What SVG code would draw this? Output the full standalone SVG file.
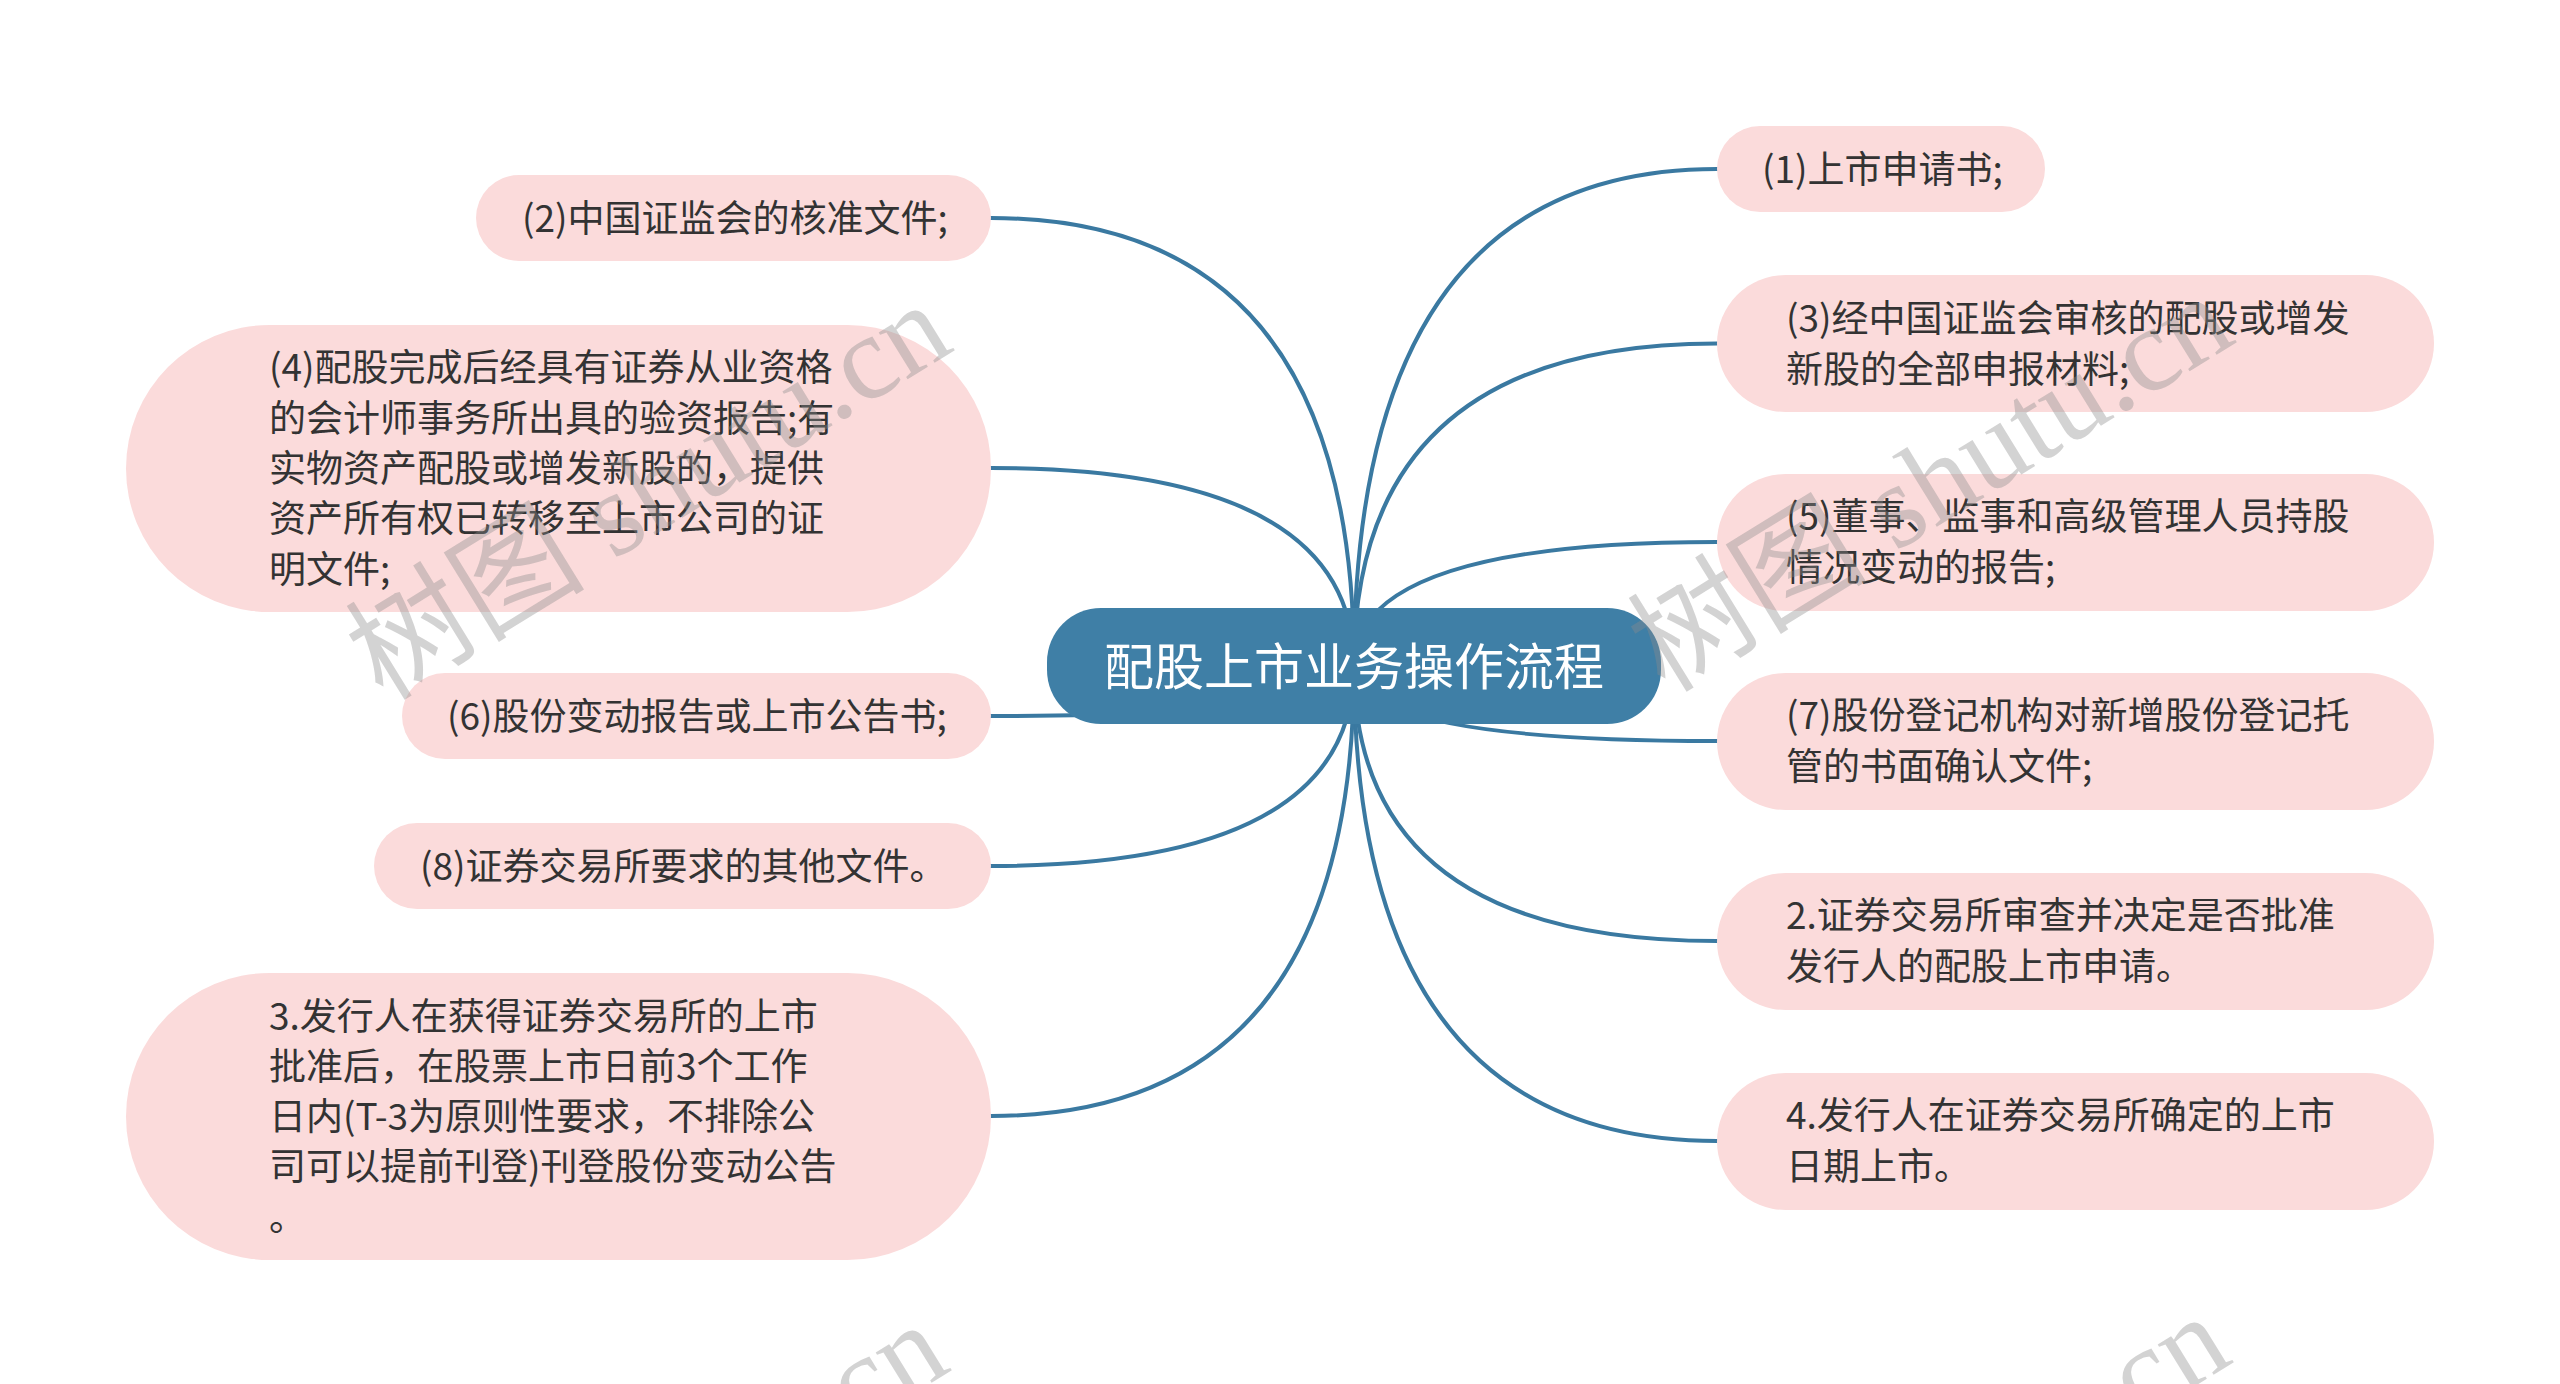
<svg xmlns="http://www.w3.org/2000/svg" width="2560" height="1384" viewBox="0 0 2560 1384">
<style>
.bg{fill:#ffffff}
.conn{fill:none;stroke:#3a79a1;stroke-width:4;stroke-linecap:round}
.leaf{fill:#fbdbdb}
.root{fill:#3f7fa6}
.t{font-family:"Noto Sans CJK SC","Noto Sans",sans-serif;font-size:37px;fill:#333333}
.rt{font-family:"Noto Sans CJK SC","Noto Sans",sans-serif;font-size:50px;fill:#ffffff;text-anchor:middle}
.wm{font-family:"Liberation Serif","Noto Sans CJK SC",serif;font-size:120px;fill:#8c8c8c;fill-opacity:0.38}
</style>
<rect class="bg" x="0" y="0" width="2560" height="1384"/>
<g id="connectors">
<path class="conn" d="M1354 666 Q1354 169 1717 169"/>
<path class="conn" d="M1354 666 Q1354 343.5 1717 343.5"/>
<path class="conn" d="M1354 666 Q1354 542 1717 542"/>
<path class="conn" d="M1354 666 Q1354 741 1717 741"/>
<path class="conn" d="M1354 666 Q1354 941 1717 941"/>
<path class="conn" d="M1354 666 Q1354 1141 1717 1141"/>
<path class="conn" d="M1354 666 Q1354 218 991 218"/>
<path class="conn" d="M1354 666 Q1354 468 991 468"/>
<path class="conn" d="M1354 666 Q1354 716 991 716"/>
<path class="conn" d="M1354 666 Q1354 866 991 866"/>
<path class="conn" d="M1354 666 Q1354 1116 991 1116"/>
</g>
<g id="root">
<rect class="root" x="1047" y="608" width="614" height="116" rx="54"/>
<text class="rt" x="1354" y="685">配股上市业务操作流程</text>
</g>
<g id="r1">
<rect class="leaf" x="1717" y="126" width="328" height="86" rx="43"/>
<text class="t" x="1762" y="183">(1)上市申请书;</text>
</g>
<g id="r3">
<rect class="leaf" x="1717" y="275" width="717" height="137" rx="68.5"/>
<text class="t" x="1786" y="332">(3)经中国证监会审核的配股或增发</text>
<text class="t" x="1786" y="383">新股的全部申报材料;</text>
</g>
<g id="r5">
<rect class="leaf" x="1717" y="474" width="717" height="137" rx="68.5"/>
<text class="t" x="1786" y="530">(5)董事、监事和高级管理人员持股</text>
<text class="t" x="1786" y="581">情况变动的报告;</text>
</g>
<g id="r7">
<rect class="leaf" x="1717" y="673" width="717" height="137" rx="68.5"/>
<text class="t" x="1786" y="729">(7)股份登记机构对新增股份登记托</text>
<text class="t" x="1786" y="780">管的书面确认文件;</text>
</g>
<g id="r2">
<rect class="leaf" x="1717" y="873" width="717" height="137" rx="68.5"/>
<text class="t" x="1786" y="929">2.证券交易所审查并决定是否批准</text>
<text class="t" x="1786" y="980">发行人的配股上市申请。</text>
</g>
<g id="r4">
<rect class="leaf" x="1717" y="1073" width="717" height="137" rx="68.5"/>
<text class="t" x="1786" y="1129">4.发行人在证券交易所确定的上市</text>
<text class="t" x="1786" y="1180">日期上市。</text>
</g>
<g id="l2">
<rect class="leaf" x="476" y="175" width="515" height="86" rx="43"/>
<text class="t" x="522" y="232">(2)中国证监会的核准文件;</text>
</g>
<g id="l4">
<rect class="leaf" x="126" y="325" width="865" height="287" rx="143.5"/>
<text class="t" x="269" y="381">(4)配股完成后经具有证券从业资格</text>
<text class="t" x="269" y="432">的会计师事务所出具的验资报告;有</text>
<text class="t" x="269" y="482">实物资产配股或增发新股的，提供</text>
<text class="t" x="269" y="532">资产所有权已转移至上市公司的证</text>
<text class="t" x="269" y="583">明文件;</text>
</g>
<g id="l6">
<rect class="leaf" x="402" y="673" width="589" height="86" rx="43"/>
<text class="t" x="447" y="730">(6)股份变动报告或上市公告书;</text>
</g>
<g id="l8">
<rect class="leaf" x="374" y="823" width="617" height="86" rx="43"/>
<text class="t" x="420" y="880">(8)证券交易所要求的其他文件。</text>
</g>
<g id="l3">
<rect class="leaf" x="126" y="973" width="865" height="287" rx="143.5"/>
<text class="t" x="269" y="1030">3.发行人在获得证券交易所的上市</text>
<text class="t" x="269" y="1080">批准后，在股票上市日前3个工作</text>
<text class="t" x="269" y="1130">日内(T-3为原则性要求，不排除公</text>
<text class="t" x="269" y="1180">司可以提前刊登)刊登股份变动公告</text>
<text class="t" x="269" y="1231">。</text>
</g>
<g id="watermarks">
<text class="wm" transform="translate(383 702) rotate(-31.6)">树图 shutu.cn</text>
<text class="wm" transform="translate(1665 694) rotate(-31.6)">树图 shutu.cn</text>
<text class="wm" transform="translate(380 1722) rotate(-31.6)">树图 shutu.cn</text>
<text class="wm" transform="translate(1662 1714) rotate(-31.6)">树图 shutu.cn</text>
</g>
</svg>
